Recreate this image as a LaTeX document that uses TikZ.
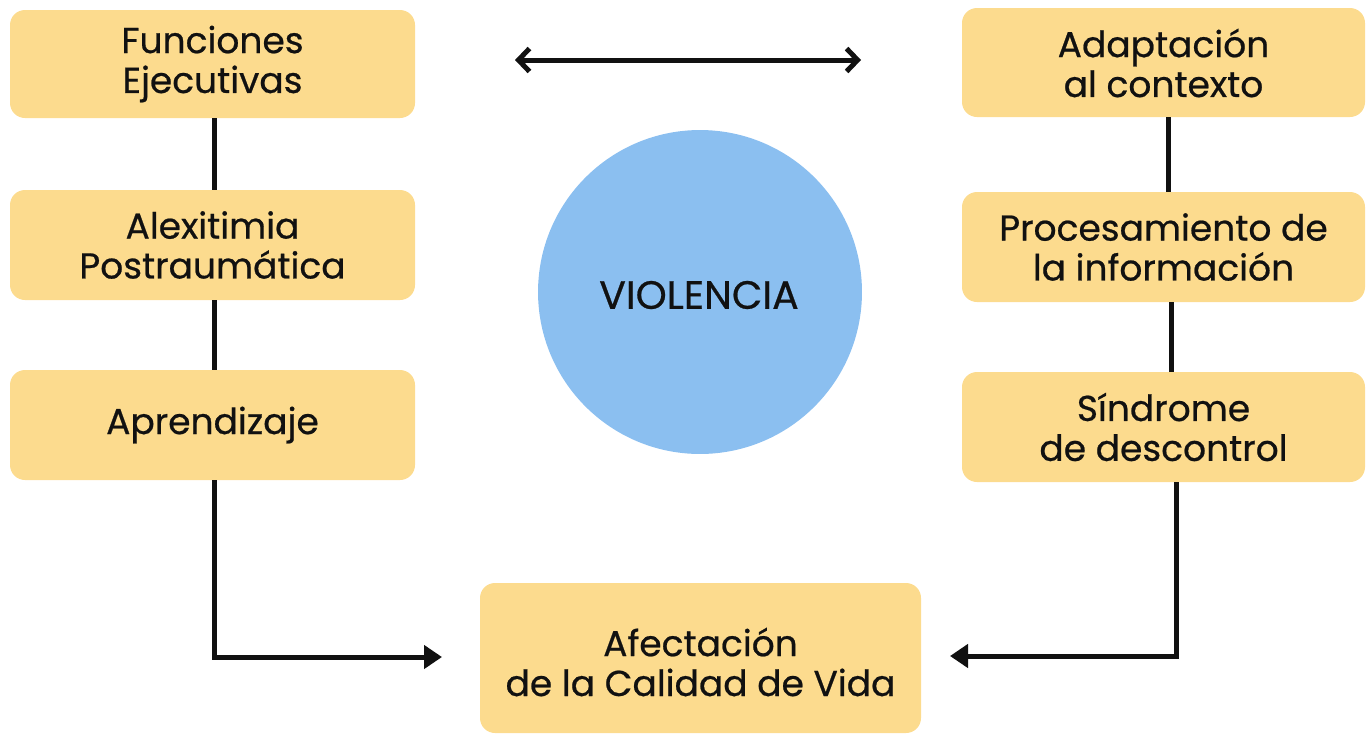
\documentclass[tikz,border=0pt]{standalone}
\usepackage{fontspec}
\setmainfont{Poppins}[FakeBold=0.6]
\usetikzlibrary{arrows.meta}
\definecolor{boxfill}{HTML}{FCDB8E}
\definecolor{circfill}{HTML}{8BBFF0}
\definecolor{ink}{HTML}{111111}
\tikzset{
  px/.style={x=0.02cm,y=-0.02cm},
  card/.style={fill=boxfill,rounded corners=0.3cm,draw=none},
  lbl/.style={font=\fontsize{20.5}{22.7}\selectfont,text=ink,align=center,inner sep=0pt},
  conn/.style={draw=ink,line width=0.1cm},
  tip/.style={-{Triangle[length=0.36cm,width=0.46cm]}},
  dtip/.style={{Straight Barb[length=0.22cm,width=0.46cm,line width=0.1cm]}-{Straight Barb[length=0.22cm,width=0.46cm,line width=0.1cm]}}
}
\begin{document}
\begin{tikzpicture}[px]
\useasboundingbox (0,0) rectangle (1371,734);
% boxes
\path[card] (10,10) rectangle (415,118);
\node[lbl] (fe) at (212.5,64) {Funciones\\Ejecutivas};
\path[card] (10,190) rectangle (415,300);
\node[lbl] (al) at (212.5,245) {Alexitimia\\Postraumática};
\path[card] (10,370) rectangle (415,480);
\node[lbl] (ap) at (212.5,425) {Aprendizaje};
\path[card] (962,8) rectangle (1365,117);
\node[lbl] (ad) at (1163.5,63) {Adaptación\\al contexto};
\path[card] (962,192) rectangle (1365,302);
\node[lbl] (pr) at (1163.5,247) {Procesamiento de\\la información};
\path[card] (962,372) rectangle (1365,482);
\node[lbl] (si) at (1163.5,427) {Síndrome\\de descontrol};
\path[card] (480,583) rectangle (921,733);
\node[lbl] (af) at (700.5,662) {Afectación\\de la Calidad de Vida};
% circle
\fill[circfill] (700,292) circle[radius=3.24cm];
\node[lbl,font=\fontsize{22.5}{25}\selectfont] (vi) at (699,295) {VIOLENCIA};
% coordinates
\coordinate (l1) at (214,118); \coordinate (l2) at (214,190);
\coordinate (l3) at (214,300); \coordinate (l4) at (214,370);
\coordinate (l5) at (214,480); \coordinate (l6) at (214,657);
\coordinate (la) at (442,657);
\coordinate (r1) at (1168,117); \coordinate (r2) at (1168,192);
\coordinate (r3) at (1171,302); \coordinate (r4) at (1171,372);
\coordinate (r5) at (1176,482); \coordinate (r6) at (1176,656);
\coordinate (ra) at (950,656);
\coordinate (ta) at (515,60); \coordinate (tb) at (861,60);
% connectors
\draw[conn] (l1) -- (l2);
\draw[conn] (l3) -- (l4);
\draw[conn,tip] (l5) -- (l6) -- (la);
\draw[conn] (r1) -- (r2);
\draw[conn] (r3) -- (r4);
\draw[conn,tip] (r5) -- (r6) -- (ra);
\draw[conn,dtip] (ta) -- (tb);
\end{tikzpicture}
\end{document}
